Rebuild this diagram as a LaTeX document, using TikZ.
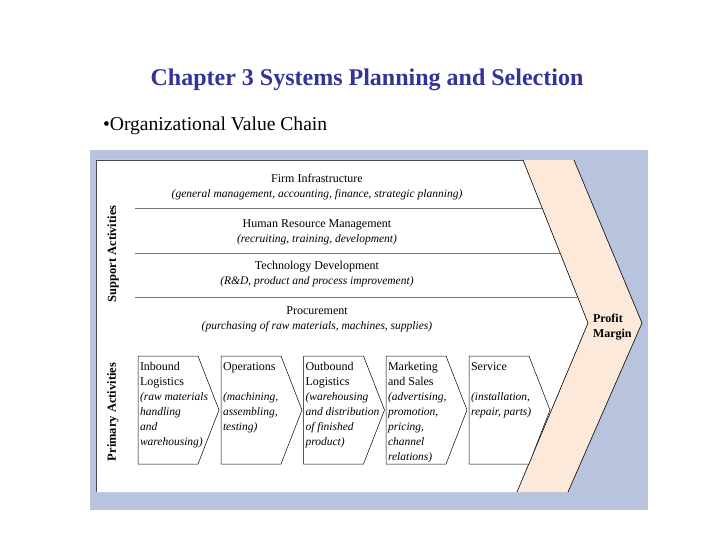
\documentclass[tikz,border=0pt]{standalone}
\usepackage{fontspec}
\setmainfont{Liberation Serif}
\definecolor{panelblue}{RGB}{184,195,222}
\definecolor{beige}{RGB}{253,233,217}
\definecolor{titleblue}{RGB}{51,51,153}
\newcommand{\desc}[1]{{\fontsize{11.5}{15}\selectfont\itshape #1}}
\begin{document}
\begin{tikzpicture}[x=1pt,y=-1pt,
  every node/.style={inner sep=0pt,outer sep=0pt},
  rowtext/.style={align=center,font=\fontsize{12}{15}\selectfont},
  boxtext/.style={align=left,anchor=north west,font=\fontsize{12}{15}\selectfont},
  sidelabel/.style={rotate=90,font=\fontsize{12.5}{14}\selectfont\bfseries},
  activity/.style={draw=black,line width=0.5pt,fill=white},
  rowline/.style={draw=black!55,line width=0.6pt},
  edge/.style={draw=black,line width=0.6pt}]
\useasboundingbox (0,0) rectangle (720,540);
\fill[white] (0,0) rectangle (720,540);
% title
\node[text=titleblue,font=\fontsize{24}{28}\selectfont\bfseries,anchor=base] (title) at (367,86) {Chapter 3 Systems Planning and Selection};
\node[font=\fontsize{19.6}{23}\selectfont,anchor=base west] (bullet) at (103,131) {•Organizational Value Chain};
% panel
\fill[panelblue] (90,150) rectangle (648,510);
\fill[white] (96,160) -- (523,160) -- (588,323) -- (517,492) -- (96,492) -- cycle;
\fill[beige] (523,160) -- (574,160) -- (642,323) -- (568,492) -- (517,492) -- (588,323) -- cycle;
\draw[black!70,line width=0.8pt] (96,492) -- (96,160) -- (523,160);
\draw[edge] (523,160) -- (588,323) -- (517,492);
\draw[edge] (574,160) -- (642,323) -- (568,492);
% row separators
\draw[rowline] (135,208) -- (542.1,208);
\draw[rowline] (135,253) -- (560.1,253);
\draw[rowline] (135,297) -- (577.6,297);
% side labels
\node[sidelabel] (support) at (113,254) {Support Activities};
\node[sidelabel] (primary) at (113,412) {Primary Activities};
% support rows
\node[rowtext] (firm) at (317,187.5) {Firm Infrastructure\\\desc{(general management, accounting, finance, strategic planning)}};
\node[rowtext] (hrm) at (317,232.5) {Human Resource Management\\\desc{(recruiting, training, development)}};
\node[rowtext] (tech) at (317,274.5) {Technology Development\\\desc{(R\&D, product and process improvement)}};
\node[rowtext] (proc) at (317,319.5) {Procurement\\\desc{(purchasing of raw materials, machines, supplies)}};
% primary activities
\foreach \L in {138,221,303.5,386,469}{
  \draw[activity] (\L,356) -- (\L+60,356) -- (\L+81,410) -- (\L+60,464) -- (\L,464) -- cycle;
}
\node[boxtext] (inbound) at (140,359.5) {\strut Inbound\\Logistics\\\desc{(raw materials}\\\desc{handling}\\\desc{and}\\\desc{warehousing)}};
\node[boxtext] (ops) at (223,359.5) {\strut Operations\\ \\\desc{(machining,}\\\desc{assembling,}\\\desc{testing)}};
\node[boxtext] (outbound) at (305.5,359.5) {\strut Outbound\\Logistics\\\desc{(warehousing}\\\desc{and distribution}\\\desc{of finished}\\\desc{product)}};
\node[boxtext] (mkt) at (388,359.5) {\strut Marketing\\and Sales\\\desc{(advertising,}\\\desc{promotion,}\\\desc{pricing,}\\\desc{channel}\\\desc{relations)}};
\node[boxtext] (svc) at (471,359.5) {\strut Service\\ \\\desc{(installation,}\\\desc{repair, parts)}};
% profit margin
\node[boxtext,font=\fontsize{12}{15}\selectfont\bfseries] (profit) at (593,312) {\strut Profit\\Margin};
\end{tikzpicture}
\end{document}
